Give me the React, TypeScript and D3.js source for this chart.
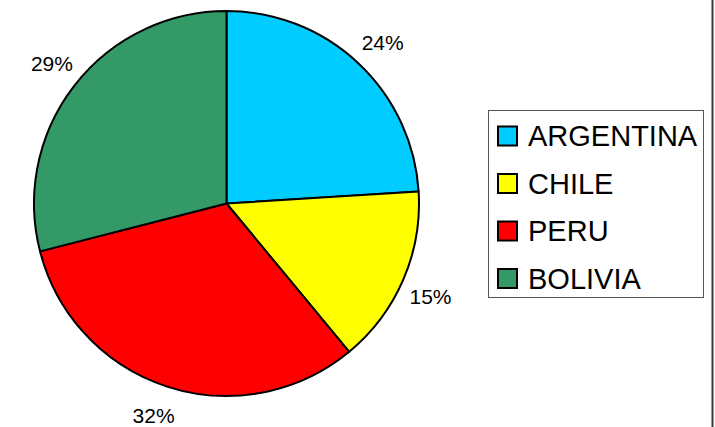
import React, { useEffect, useRef } from "react";
import * as d3 from "d3";

// chart data
const countries = ["ARGENTINA", "CHILE", "PERU", "BOLIVIA"];
const shares = [24, 15, 32, 29];
const colors = ["#00CCFF", "#FFFF00", "#FF0000", "#339966"];

const App = () => {
  const ref = useRef<SVGSVGElement>(null);

  useEffect(() => {
    document.body.style.margin = "0";
    const width = 715;
    const height = 427;
    const cx = 226.5;
    const cy = 203.5;
    const radius = 192.5;
    const labelRadius = 224;
    const labelShift = (1 * Math.PI) / 180; // labels sit a little clockwise of the slice middle

    const svg = d3.select(ref.current);
    svg.selectAll("*").remove();
    svg.attr("width", width).attr("height", height);

    svg.append("rect").attr("width", width).attr("height", height).attr("fill", "#fff");

    // dark line along the right edge
    svg
      .append("line")
      .attr("x1", 712.5)
      .attr("x2", 712.5)
      .attr("y1", 0)
      .attr("y2", height)
      .attr("stroke", "#3a3a30")
      .attr("stroke-width", 2);

    const rows = countries.map((c, i) => ({ name: c, value: shares[i], color: colors[i] }));

    const pie = d3
      .pie<any>()
      .value((d) => d.value)
      .sort(null);
    const arcs = pie(rows);

    const arc = d3.arc<any>().innerRadius(0).outerRadius(radius);

    const g = svg.append("g").attr("transform", `translate(${cx},${cy})`);

    g.selectAll("path")
      .data(arcs)
      .enter()
      .append("path")
      .attr("d", arc)
      .attr("fill", (d) => d.data.color)
      .attr("stroke", "#000")
      .attr("stroke-width", 2)
      .attr("stroke-linejoin", "round");

    g.selectAll("text")
      .data(arcs)
      .enter()
      .append("text")
      .attr("transform", (d) => {
        const a = (d.startAngle + d.endAngle) / 2 + labelShift;
        return `translate(${Math.sin(a) * labelRadius},${-Math.cos(a) * labelRadius})`;
      })
      .attr("text-anchor", "middle")
      .attr("dominant-baseline", "central")
      .attr("font-family", "'Liberation Sans', Arial, sans-serif")
      .attr("font-size", 21)
      .attr("fill", "#000")
      .text((d) => `${d.data.value}%`);

    // legend
    const legend = svg.append("g");
    legend
      .append("rect")
      .attr("x", 488.5)
      .attr("y", 110.5)
      .attr("width", 215)
      .attr("height", 187)
      .attr("fill", "#fff")
      .attr("stroke", "#555")
      .attr("stroke-width", 1);

    const y = d3
      .scalePoint<string>()
      .domain(countries)
      .range([136, 278.5]);

    const item = legend
      .selectAll("g.item")
      .data(rows)
      .enter()
      .append("g")
      .attr("class", "item")
      .attr("transform", (d) => `translate(0,${y(d.name)})`);

    item
      .append("rect")
      .attr("x", 498)
      .attr("y", -9.5)
      .attr("width", 19)
      .attr("height", 19)
      .attr("fill", (d) => d.color)
      .attr("stroke", "#000")
      .attr("stroke-width", 2);

    item
      .append("text")
      .attr("x", 528)
      .attr("dominant-baseline", "central")
      .attr("font-family", "'Liberation Sans', Arial, sans-serif")
      .attr("font-size", 29)
      .attr("fill", "#000")
      .text((d) => d.name);
  }, []);

  return <svg ref={ref} style={{ display: "block" }} />;
};

export default App;
